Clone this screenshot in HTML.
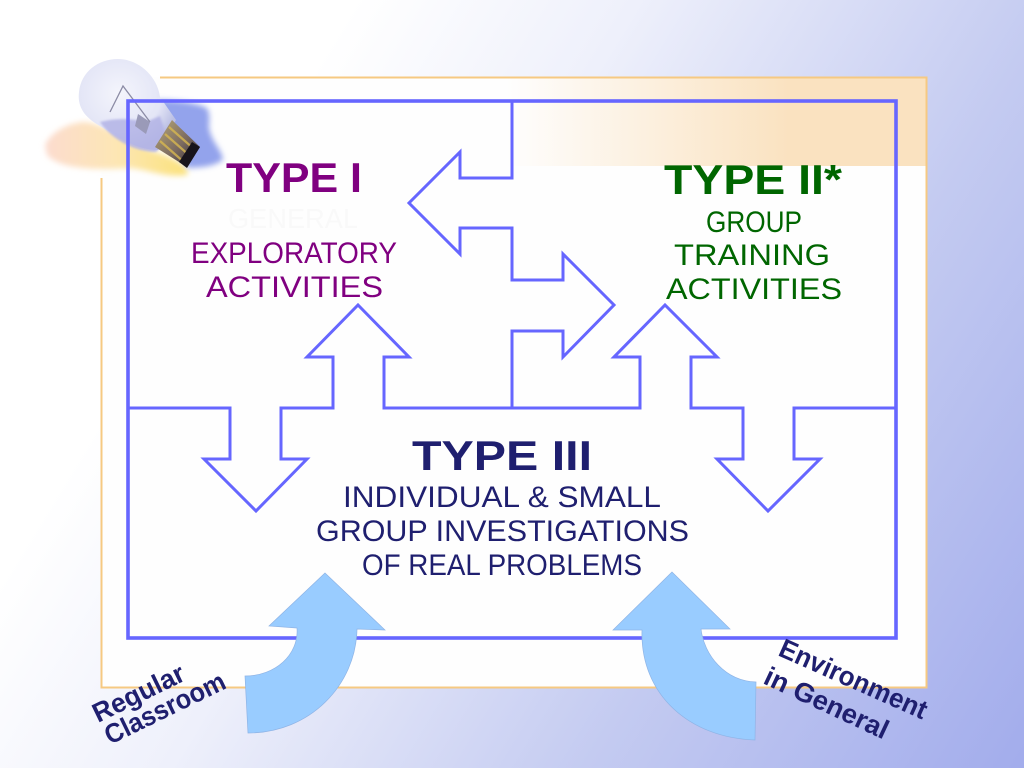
<!DOCTYPE html>
<html><head><meta charset="utf-8"><title>Types</title>
<style>html,body{margin:0;padding:0;background:#fff}svg{display:block}text{font-family:"Liberation Sans",sans-serif}</style></head>
<body>
<svg width="1024" height="768" viewBox="0 0 1024 768" xmlns="http://www.w3.org/2000/svg">
<defs>
<linearGradient id="bg" gradientUnits="userSpaceOnUse" x1="0" y1="0" x2="1080" y2="660"><stop offset="0.24" stop-color="#ffffff"/><stop offset="0.43" stop-color="#eef0fb"/><stop offset="0.71" stop-color="#c4cbf1"/><stop offset="1" stop-color="#a3adec"/></linearGradient>
<linearGradient id="band" gradientUnits="userSpaceOnUse" x1="505" y1="0" x2="790" y2="0"><stop offset="0" stop-color="#fefefe"/><stop offset="1" stop-color="#fae2c0"/></linearGradient>
<radialGradient id="glass" cx="0.42" cy="0.38" r="0.62"><stop offset="0" stop-color="#f4f5fc"/><stop offset="0.7" stop-color="#e3e5f6"/><stop offset="1" stop-color="#bcc0e4"/></radialGradient>
<linearGradient id="screw" x1="0" y1="0" x2="1" y2="1"><stop offset="0" stop-color="#b8a878"/><stop offset="0.55" stop-color="#7b6a60"/><stop offset="1" stop-color="#2a2630"/></linearGradient>
<linearGradient id="blot" x1="0" y1="0" x2="1" y2="0"><stop offset="0" stop-color="#fcdccf"/><stop offset="0.5" stop-color="#fde6b4"/><stop offset="1" stop-color="#fbe27c"/></linearGradient>
<filter id="b4" x="-20%" y="-20%" width="140%" height="140%"><feGaussianBlur stdDeviation="3"/></filter>
<filter id="b1" x="-20%" y="-20%" width="140%" height="140%"><feGaussianBlur stdDeviation="1"/></filter>
</defs>
<rect width="1024" height="768" fill="url(#bg)"/>
<rect x="101.5" y="77.5" width="825" height="610" fill="#fefefe"/>
<rect x="505" y="77.5" width="421.5" height="88.5" fill="url(#band)"/>
<path d="M160 77.5H926.5V687.5H101.5V178" fill="none" stroke="#f6c982" stroke-width="2"/>

<!-- bulb -->
<path d="M45 145C52 130 72 122 85 122C110 125 130 145 165 155C180 162 190 168 187 175C165 178 150 170 130 168C100 170 60 170 47 155Z" fill="url(#blot)" filter="url(#b4)"/>
<path d="M157 100C175 100 195 102 207 108C212 118 207 125 210 132C214 145 222 150 223 160C210 168 200 167 188 168L150 120Z" fill="#93a3ec" filter="url(#b4)"/>
<path d="M79 92C81 72 98 59 118 59C140 59 158 78 160 97L176 120L158 150C135 150 115 135 100 126C86 118 77 108 79 92Z" fill="url(#glass)"/>
<path d="M100 122C115 118 130 118 146 122L160 116L168 140L156 152C135 152 112 140 100 122Z" fill="#b3b4e6" opacity=".85" filter="url(#b1)"/>
<path d="M110 112L123 86L150 122" fill="none" stroke="#8b8ba5" stroke-width="1.3"/>
<path d="M138 114L150 122L146 134L135 126Z" fill="#9a9ab8"/>
<path d="M172 120L200 147L187 167L155 147Z" fill="url(#screw)"/>
<path d="M169 127L194 149M165 134L190 156M160 141L185 163" stroke="#d8b850" stroke-width="2.2" opacity=".8"/>
<path d="M200 147L187 168L179 162L192 142Z" fill="#17141c"/>

<!-- blue box and arrows -->
<g fill="none" stroke="#6666ff" stroke-width="3">
<rect x="128" y="101" width="768" height="537" stroke-width="3.6"/>
<path d="M512 101V178H460V152L409 203L460 254V228H512V280H563V254L614 305L563 357V331H512V408"/>
<path d="M128 408H230V459H204L256 511L307 459H281V408H333V357H307L358 305L409 357H384V408H640V357H614L665 305L717 357H691V408H743V459H717L768 511L820 459H794V408H896"/>
</g>

<!-- curved arrows -->
<g fill="#99ccff" stroke="#8fb4e6" stroke-width="0.7">
<path d="M325 573L385 630L357 629C356 685 310 733 248 733L245 676C275 676 299 655 297 628L269 626Z"/>
<path d="M672 572L730 629L701 629C704 655 725 681 756 682L755 740C690 738 640 695 642 630L613 630Z"/>
</g>

<!-- text -->
<g>
<text x="226" y="192" font-size="42" font-weight="bold" fill="#800080" textLength="136" lengthAdjust="spacingAndGlyphs">TYPE I</text>
<text x="228" y="228" font-size="28" fill="#f9f9f9" textLength="130" lengthAdjust="spacingAndGlyphs">GENERAL</text>
<text x="191" y="263" font-size="30" fill="#800080" textLength="206" lengthAdjust="spacingAndGlyphs">EXPLORATORY</text>
<text x="206" y="297" font-size="30" fill="#800080" textLength="177" lengthAdjust="spacingAndGlyphs">ACTIVITIES</text>
<text x="664" y="194" font-size="42" font-weight="bold" fill="#006600" textLength="178" lengthAdjust="spacingAndGlyphs">TYPE II*</text>
<text x="706" y="232" font-size="30" fill="#006600" textLength="96" lengthAdjust="spacingAndGlyphs">GROUP</text>
<text x="674" y="265" font-size="30" fill="#006600" textLength="156" lengthAdjust="spacingAndGlyphs">TRAINING</text>
<text x="666" y="299" font-size="30" fill="#006600" textLength="176" lengthAdjust="spacingAndGlyphs">ACTIVITIES</text>
<text x="412" y="470" font-size="42" font-weight="bold" fill="#1f1f6f" textLength="180" lengthAdjust="spacingAndGlyphs">TYPE III</text>
<text x="343" y="507" font-size="30" fill="#1f1f6f" textLength="318" lengthAdjust="spacingAndGlyphs">INDIVIDUAL &amp; SMALL</text>
<text x="316" y="541" font-size="30" fill="#1f1f6f" textLength="373" lengthAdjust="spacingAndGlyphs">GROUP INVESTIGATIONS</text>
<text x="362" y="575" font-size="30" fill="#1f1f6f" textLength="280" lengthAdjust="spacingAndGlyphs">OF REAL PROBLEMS</text>
<text transform="translate(98 723) rotate(-26)" font-size="27" font-weight="bold" fill="#1f1f6f" textLength="99" lengthAdjust="spacingAndGlyphs">Regular</text>
<text transform="translate(110 745) rotate(-26)" font-size="27" font-weight="bold" fill="#1f1f6f" textLength="131" lengthAdjust="spacingAndGlyphs">Classroom</text>
<text transform="translate(777 655) rotate(24)" font-size="27" font-weight="bold" fill="#1f1f6f" textLength="159" lengthAdjust="spacingAndGlyphs">Environment</text>
<text transform="translate(762 683) rotate(25)" font-size="27" font-weight="bold" fill="#1f1f6f" textLength="134" lengthAdjust="spacingAndGlyphs">in General</text>
</g>
</svg>
</body></html>
